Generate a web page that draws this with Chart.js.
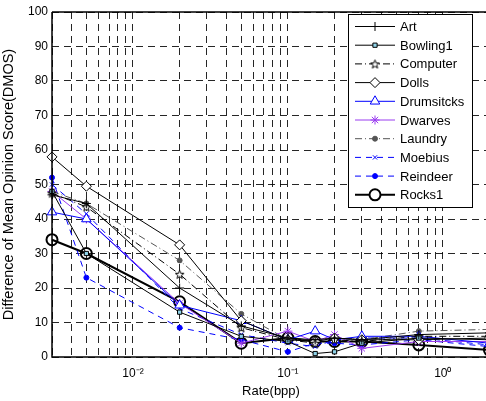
<!DOCTYPE html>
<html>
<head>
<meta charset="utf-8">
<script src="https://cdn.jsdelivr.net/npm/chart.js@4.4.0/dist/chart.umd.min.js"></script>
<style>
  html, body { margin: 0; padding: 0; background: #fff; }
  #wrap { width: 486px; height: 401px; }
</style>
</head>
<body>
<div id="wrap"><canvas id="myChart" width="486" height="401"></canvas></div>
<script>
// rate values (bpp) shared by every image
const rates = [0.003, 0.005, 0.02, 0.05, 0.1, 0.15, 0.2, 0.3, 0.7, 2];

const art        = [47, 44.5, 20, 9, 5.5, 5, 5.5, 5, 6.5, 7];
const bowling1   = [48, 30, 13, 6, 4.5, 1, 1.5, 4, 5.5, 5];
const computer   = [47.5, 43.5, 24, 8.5, 5, 4, 5, 4.5, 6, 6];
const dolls      = [58, 49.5, 32.5, 10.5, 5, 4.5, 5.5, 5, 5, 5.5];
const drumsitcks = [42, 40, 15, 10.5, 5, 7.5, 5, 6, 6, 4];
const dwarves    = [48, 40, 15.5, 4, 7.5, 4.5, 6.5, 2.5, 4.5, 4.5];
const laundry    = [48, 44.5, 28, 12.5, 5, 5, 5.5, 5, 7.5, 8];
const moebius    = [50, 41.5, 14, 6.5, 4, 3, 5, 5.5, 5.5, 3.5];
const reindeer   = [52, 23, 8.5, 5, 1.5, 4, 4, 3.5, 5, 3];
const rocks1     = [34, 30, 16, 4, 5.5, 4.5, 4.5, 4.5, 3.5, 2];

const yTicks = [0, 10, 20, 30, 40, 50, 60, 70, 80, 90, 100];
const xMin = 0.003, xMax = 1.9;

// hollow five point star like matlab 'p'
function makeStar(size, color) {
    const c = document.createElement('canvas');
    c.width = size; c.height = size;
    const g = c.getContext('2d');
    const cx = size / 2, cy = size / 2 + 0.5, R = size / 2 - 1, r = R * 0.42;
    g.beginPath();
    for (let i = 0; i < 10; i++) {
        const rad = (i % 2 === 0) ? R : r;
        const a = -Math.PI / 2 + i * Math.PI / 5;
        const px = cx + rad * Math.cos(a), py = cy + rad * Math.sin(a);
        if (i === 0) g.moveTo(px, py); else g.lineTo(px, py);
    }
    g.closePath();
    g.fillStyle = '#fff';
    g.fill();
    g.strokeStyle = color;
    g.lineWidth = 1;
    g.stroke();
    return c;
}
const starImg = makeStar(11, '#000');

function pts(vals) {
    return vals.map(function (v, i) { return { x: rates[i], y: v }; });
}

function series(label, vals, style) {
    return Object.assign({
        label: label,
        data: pts(vals),
        borderWidth: 1,
        pointBorderWidth: 1,
        pointBackgroundColor: '#fff',
        fill: false,
        tension: 0,
        clip: false
    }, style);
}

const datasets = [
    series('Art', art, { borderColor: '#000', pointBorderColor: '#000', pointStyle: 'cross', pointRadius: 4.5 }),
    series('Bowling1', bowling1, { borderColor: '#000', pointBorderColor: '#000', pointBackgroundColor: '#8fd3e8', pointStyle: 'rect', pointRadius: 3 }),
    series('Computer', computer, { borderColor: '#000', borderDash: [7, 3, 1, 3], pointBorderColor: '#000', pointStyle: starImg, pointRadius: 5 }),
    series('Dolls', dolls, { borderColor: '#000', pointBorderColor: '#000', pointStyle: 'rectRot', pointRadius: 5 }),
    series('Drumsitcks', drumsitcks, { borderColor: '#0000ff', pointBorderColor: '#0000ff', pointStyle: 'triangle', pointRadius: 5.5 }),
    series('Dwarves', dwarves, { borderColor: '#9a3cf0', pointBorderColor: '#9a3cf0', pointStyle: 'star', pointRadius: 4.5 }),
    series('Laundry', laundry, { borderColor: '#555', borderDash: [7, 3, 1, 3], pointBorderColor: '#555', pointBackgroundColor: '#555', pointStyle: 'circle', pointRadius: 2.5 }),
    series('Moebius', moebius, { borderColor: '#0000ff', borderDash: [6, 5], pointBorderColor: '#0000ff', pointStyle: 'crossRot', pointRadius: 3 }),
    series('Reindeer', reindeer, { borderColor: '#0000ff', borderDash: [6, 5], pointBorderColor: '#0000ff', pointBackgroundColor: '#0000ff', pointStyle: 'circle', pointRadius: 2.5 }),
    series('Rocks1', rocks1, { borderColor: '#000', borderWidth: 2, pointBorderColor: '#000', pointBorderWidth: 2, pointBackgroundColor: 'rgba(255,255,255,0)', pointStyle: 'circle', pointRadius: 5.5 })
];

const supers = { '-': '\u207B', '0': '\u2070', '1': '\u00B9', '2': '\u00B2', '3': '\u00B3' };

// frame, x title and the boxed legend inside the plot
const framePlugin = {
    id: 'frame',
    afterDatasetsDraw: function (chart) {
        const ctx = chart.ctx;
        const a = chart.chartArea;
        ctx.save();
        ctx.setLineDash([]);
        ctx.strokeStyle = '#000';
        ctx.lineWidth = 1.5;
        ctx.beginPath();
        ctx.moveTo(a.left, a.top);
        ctx.lineTo(a.right, a.top);
        ctx.moveTo(a.left, a.top);
        ctx.lineTo(a.left, a.bottom);
        ctx.lineTo(a.right, a.bottom);
        ctx.stroke();

        ctx.fillStyle = '#000';
        ctx.font = '13px "Liberation Sans", Arial, sans-serif';
        ctx.textAlign = 'center';
        ctx.textBaseline = 'middle';
        ctx.fillText('Rate(bpp)', 271, 391);

        // legend
        const lx = 348, ly = 14, lw = 124, lh = 193;
        ctx.fillStyle = '#fff';
        ctx.fillRect(lx, ly, lw, lh);
        ctx.strokeStyle = '#000';
        ctx.lineWidth = 1;
        ctx.strokeRect(lx + 0.5, ly + 0.5, lw, lh);
        ctx.font = '13px "Liberation Sans", Arial, sans-serif';
        ctx.textAlign = 'left';
        chart.data.datasets.forEach(function (ds, i) {
            const y = 26.5 + i * 18.7;
            ctx.save();
            ctx.strokeStyle = ds.borderColor;
            ctx.lineWidth = ds.borderWidth;
            ctx.setLineDash(ds.borderDash || []);
            ctx.beginPath();
            ctx.moveTo(355, y);
            ctx.lineTo(395, y);
            ctx.stroke();
            ctx.setLineDash([]);
            ctx.strokeStyle = ds.pointBorderColor;
            ctx.fillStyle = ds.pointBackgroundColor;
            ctx.lineWidth = ds.pointBorderWidth;
            if (ds.label === 'Rocks1') {
                ctx.fillStyle = '#fff';
            }
            Chart.helpers.drawPoint(ctx, { pointStyle: ds.pointStyle, radius: ds.pointRadius, rotation: 0, borderWidth: ds.pointBorderWidth }, 375, y);
            ctx.restore();
            ctx.fillStyle = '#000';
            ctx.fillText(ds.label, 400, y + 1);
        });
        ctx.restore();
    }
};

const ctx = document.getElementById('myChart').getContext('2d');
const chart = new Chart(ctx, {
    type: 'line',
    data: { datasets: datasets },
    options: {
        responsive: false,
        animation: false,
        devicePixelRatio: 1,
        layout: { autoPadding: false, padding: { top: 12, right: 0, left: 0, bottom: 0 } },
        plugins: {
            legend: { display: false },
            tooltip: { enabled: false }
        },
        scales: {
            x: {
                type: 'logarithmic',
                min: xMin,
                max: xMax,
                afterBuildTicks: function (scale) {
                    const t = [];
                    for (let k = -3; k <= 0; k++) {
                        for (let m = 1; m <= 9; m++) {
                            const v = m * Math.pow(10, k);
                            if (v >= xMin - 1e-9 && v <= xMax) t.push({ value: v });
                        }
                    }
                    scale.ticks = t;
                },
                afterFit: function (scale) { scale.height = 44; },
                ticks: {
                    autoSkip: false,
                    maxRotation: 0,
                    color: '#000',
                    font: { family: '"Liberation Sans", Arial, sans-serif', size: 12 },
                    padding: 9,
                    callback: function (v) {
                        const e = Math.log10(v);
                        if (Math.abs(e - Math.round(e)) < 1e-6) {
                            const s = String(Math.round(e)).split('').map(function (c) { return supers[c]; }).join('');
                            return '10' + s;
                        }
                        return '';
                    }
                },
                grid: { color: 'rgba(0,0,0,0.85)', lineWidth: 1, drawTicks: false },
                border: { display: false, dash: [7, 5] }
            },
            y: {
                min: 0,
                max: 100,
                afterBuildTicks: function (scale) {
                    scale.ticks = yTicks.map(function (v) { return { value: v }; });
                },
                afterFit: function (scale) { scale.width = 52; },
                ticks: {
                    color: '#000',
                    font: { family: '"Liberation Sans", Arial, sans-serif', size: 12 },
                    padding: 4
                },
                title: {
                    display: true,
                    text: 'Difference of Mean Opinion Score(DMOS)',
                    color: '#000',
                    font: { family: '"Liberation Sans", Arial, sans-serif', size: 14.5 },
                    padding: { top: 0, bottom: 1 }
                },
                grid: { color: 'rgba(0,0,0,0.85)', lineWidth: 1, drawTicks: false },
                border: { display: false, dash: [7, 5] }
            }
        }
    },
    plugins: [framePlugin]
});
</script>
</body>
</html>
